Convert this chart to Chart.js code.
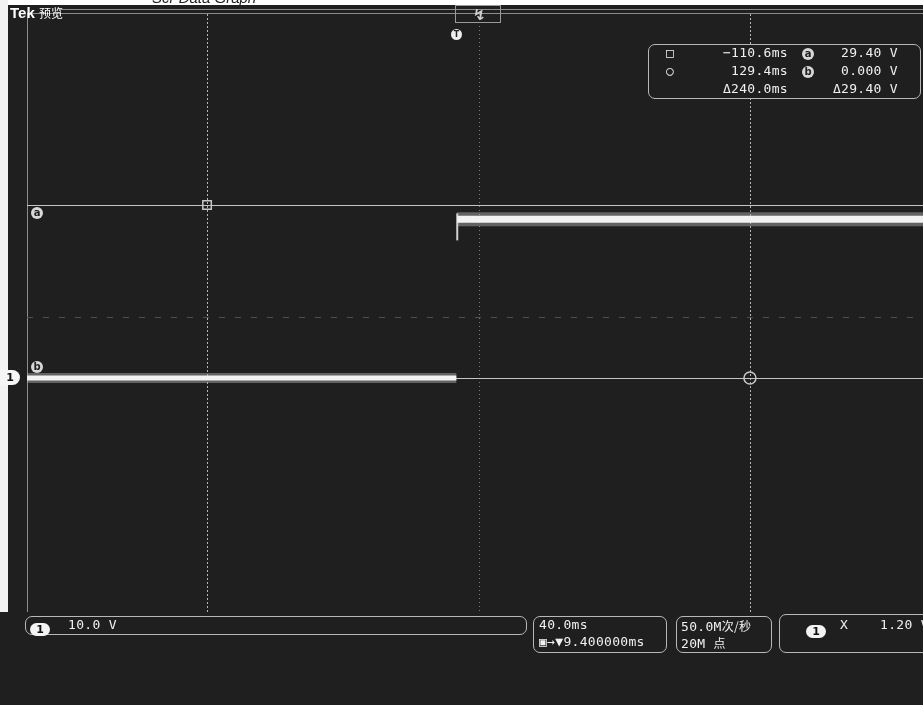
<!DOCTYPE html>
<html>
<head>
<meta charset="utf-8">
<script src="https://cdn.jsdelivr.net/npm/chart.js@4/dist/chart.umd.min.js"></script>
<style>
  body { margin: 0; width: 923px; height: 705px; overflow: hidden; background: #1f1f1f; position: relative;
         font-family: "DejaVu Sans Mono", monospace; color: #f0f0f0; }
  canvas { position: absolute; left: 0; top: 0; }
  .abs { position: absolute; white-space: nowrap; }
  .box { position: absolute; border: 1.5px solid #b8b8b8; border-radius: 7px; }
  .pill { display: inline-block; background: #f4f4f4; color: #111; border-radius: 8px; font: bold 11px "DejaVu Sans"; 
          width: 20px; height: 13px; line-height: 13px; text-align: center; }
  .ref { position: absolute; width: 12px; height: 12px; border-radius: 6px; background: #d8d8d8; color: #222;
         font: bold 10px "DejaVu Sans"; line-height: 12px; text-align: center; }
  .ro { font-size: 13px; letter-spacing: 0.3px; }
  .cjk { font-family: "Noto Sans CJK SC"; }
</style>
</head>
<body>
<canvas id="scope" width="923" height="705"></canvas>

<!-- white margins of the scan -->
<div class="abs" style="left:0;top:0;width:923px;height:5px;background:#fff;"></div>
<div class="abs" style="left:0;top:0;width:8px;height:612px;background:#f2f2f2;"></div>
<div class="abs" style="left:152px;top:-11px;font:italic 15px 'Liberation Sans';color:#222;">Scr Data Graph</div>

<div class="abs" style="left:10px;top:4px;font:bold 15px 'Liberation Sans';color:#fff;">Tek <span class="cjk" style="font-size:12px;font-weight:normal;">预览</span></div>

<!-- trigger marker at top -->
<div class="abs" style="left:455px;top:5px;width:44px;height:16px;border:1px solid #9a9a9a;"></div>
<div class="abs" style="left:473px;top:6px;font:bold 15px 'DejaVu Sans';color:#cfcfcf;">&#8623;</div>
<div class="ref" style="left:451px;top:29px;width:11px;height:11px;background:#eee;font-size:8px;">T</div>

<!-- reference markers on the left -->
<div class="ref" style="left:31px;top:207px;">a</div>
<div class="ref" style="left:31px;top:361px;">b</div>
<div class="abs" style="left:0;top:370px;width:20px;height:15px;background:#f6f6f6;border-radius:2px 8px 8px 2px;color:#111;font:bold 11px 'DejaVu Sans';line-height:15px;text-align:center;">1</div>

<!-- cursor readout -->
<div class="box" style="left:648px;top:44px;width:271px;height:53px;background:#1f1f1f;"></div>
<div class="abs ro" style="left:666px;top:45px;">&#9633;</div>
<div class="abs ro" style="left:666px;top:63px;">&#9675;</div>
<div class="abs ro" style="left:700px;top:45px;width:88px;text-align:right;">&#8722;110.6ms</div>
<div class="abs ro" style="left:700px;top:63px;width:88px;text-align:right;">129.4ms</div>
<div class="abs ro" style="left:690px;top:81px;width:98px;text-align:right;">&#916;240.0ms</div>
<div class="ref" style="left:802px;top:48px;">a</div>
<div class="ref" style="left:802px;top:66px;">b</div>
<div class="abs ro" style="left:820px;top:45px;width:78px;text-align:right;">29.40 V</div>
<div class="abs ro" style="left:820px;top:63px;width:78px;text-align:right;">0.000 V</div>
<div class="abs ro" style="left:810px;top:81px;width:88px;text-align:right;">&#916;29.40 V</div>

<!-- bottom status bar -->
<div class="box" style="left:25px;top:616px;width:500px;height:17px;"></div>
<div class="abs" style="left:30px;top:618px;"><span class="pill">1</span></div>
<div class="abs ro" style="left:68px;top:617px;">10.0 V</div>

<div class="box" style="left:533px;top:616px;width:132px;height:35px;"></div>
<div class="abs ro" style="left:539px;top:617px;">40.0ms</div>
<div class="abs ro" style="left:539px;top:634px;">&#9635;&#8594;&#9660;9.400000ms</div>

<div class="box" style="left:676px;top:616px;width:94px;height:35px;"></div>
<div class="abs ro" style="left:681px;top:617px;">50.0M<span class="cjk" style="font-size:12px;">次/秒</span></div>
<div class="abs ro" style="left:681px;top:634px;">20M <span class="cjk" style="font-size:12px;">点</span></div>

<div class="box" style="left:779px;top:614px;width:160px;height:37px;"></div>
<div class="abs" style="left:806px;top:620px;"><span class="pill">1</span></div>
<div class="abs ro" style="left:840px;top:617px;">X</div>
<div class="abs ro" style="left:880px;top:617px;">1.20 V</div>

<script>
// horizontal: 40 ms/div, vertical: volts
const xMin = -190.2;
const xMax = 205.9;
const yMin = -39.8;
const yMax = 61.9;

// channel 1 trace (ms, V)
const lowT = [-190.2, -0.4];
const lowV = [0, 0];
const highT = [0, 205.9];
const highV = [27.0, 27.0];
const edgeT = [0, 0];
const edgeV = [23.4, 28.0];

// graticule centre lines
const gridT = [9.4];
const gridV = [10.4];

// cursors
const cursorT = [-110.6, 129.4];
const cursorV = [29.4, 0];

const pts = (t, v) => t.map((x, i) => ({ x: x, y: v[i] }));

const scopeGrid = {
  id: 'scopeGrid',
  beforeDatasetsDraw(chart) {
    const { ctx, chartArea: a, scales: { x, y } } = chart;
    ctx.save();
    ctx.lineWidth = 1;
    // frame
    ctx.strokeStyle = '#8c8c8c';
    ctx.beginPath();
    ctx.moveTo(a.left + 0.5, a.top); ctx.lineTo(a.left + 0.5, a.bottom);
    ctx.moveTo(a.left, a.top - 0.5); ctx.lineTo(a.right, a.top - 0.5);
    ctx.moveTo(60, 9.5); ctx.lineTo(a.right, 9.5);
    ctx.stroke();
    // centre graticule
    ctx.strokeStyle = '#7a7a7a';
    ctx.setLineDash([1, 3]);
    gridT.forEach(t => {
      const px = Math.round(x.getPixelForValue(t)) + 0.5;
      ctx.beginPath(); ctx.moveTo(px, a.top); ctx.lineTo(px, a.bottom); ctx.stroke();
    });
    ctx.strokeStyle = '#4e4e4e';
    ctx.setLineDash([6, 10]);
    gridV.forEach(v => {
      const py = Math.round(y.getPixelForValue(v)) + 0.5;
      ctx.beginPath(); ctx.moveTo(a.left, py); ctx.lineTo(a.right, py); ctx.stroke();
    });
    // vertical cursors (dotted)
    ctx.strokeStyle = '#b5b5b5';
    ctx.setLineDash([2, 2]);
    cursorT.forEach(t => {
      const px = Math.round(x.getPixelForValue(t)) + 0.5;
      ctx.beginPath(); ctx.moveTo(px, a.top); ctx.lineTo(px, a.bottom); ctx.stroke();
    });
    // horizontal cursors (solid)
    ctx.setLineDash([]);
    ctx.strokeStyle = '#c4c4c4';
    cursorV.forEach(v => {
      const py = Math.round(y.getPixelForValue(v)) + 0.5;
      ctx.beginPath(); ctx.moveTo(a.left, py); ctx.lineTo(a.right, py); ctx.stroke();
    });
    ctx.restore();
  }
};

new Chart(document.getElementById('scope').getContext('2d'), {
  type: 'scatter',
  data: {
    datasets: [
      { data: pts(lowT, lowV), showLine: true, borderColor: '#f2f2f2', borderWidth: 5, pointRadius: 0, order: 1 },
      { data: pts(highT, highV), showLine: true, borderColor: '#f2f2f2', borderWidth: 7, pointRadius: 0, order: 1 },
      { data: pts(lowT, lowV), showLine: true, borderColor: 'rgba(165,165,165,0.5)', borderWidth: 10, pointRadius: 0, order: 3 },
      { data: pts(highT, highV), showLine: true, borderColor: 'rgba(165,165,165,0.5)', borderWidth: 14, pointRadius: 0, order: 3 },
      { data: pts(edgeT, edgeV), showLine: true, borderColor: '#d0d0d0', borderWidth: 2, pointRadius: 0, order: 2 },
      { data: [{ x: cursorT[0], y: cursorV[0] }], pointStyle: 'rect', pointRadius: 6,
        backgroundColor: 'rgba(0,0,0,0)', borderColor: '#c8c8c8', borderWidth: 1.5, order: 0 },
      { data: [{ x: cursorT[1], y: cursorV[1] }], pointStyle: 'circle', pointRadius: 6,
        backgroundColor: 'rgba(0,0,0,0)', borderColor: '#c8c8c8', borderWidth: 1.5, order: 0 }
    ]
  },
  options: {
    responsive: false,
    animation: false,
    layout: { autoPadding: false, padding: { left: 27, top: 14, right: 0, bottom: 93 } },
    plugins: { legend: { display: false }, tooltip: { enabled: false } },
    scales: {
      x: { type: 'linear', min: xMin, max: xMax, display: false },
      y: { type: 'linear', min: yMin, max: yMax, display: false }
    }
  },
  plugins: [scopeGrid]
});
</script>
</body>
</html>
